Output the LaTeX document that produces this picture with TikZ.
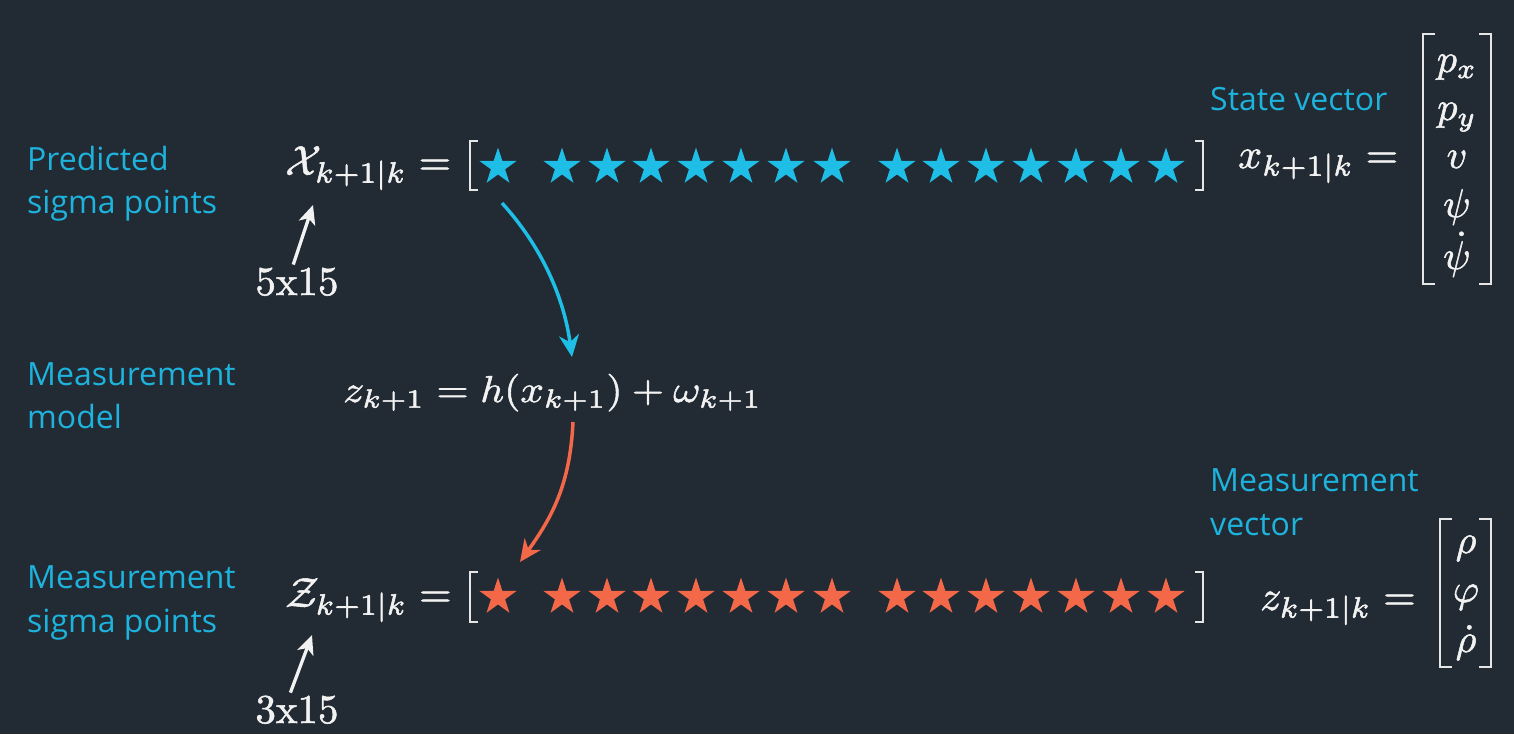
\documentclass[tikz,border=0pt]{standalone}
\usepackage{amsmath}
\usepackage{graphicx}
\usepackage{fontspec}
\newfontfamily\labelfont{Open Sans}
\usetikzlibrary{arrows.meta,shapes.geometric}
\definecolor{bg}{HTML}{222A33}
\definecolor{lblue}{HTML}{1DB3DD}
\definecolor{sblue}{HTML}{1EBEE6}
\definecolor{sorange}{HTML}{F4684A}
\definecolor{ink}{HTML}{F2F2F2}
\definecolor{brk}{HTML}{E6E6E6}
\newcommand{\heavyon}{\special{pdf:literal direct 2 Tr 0.13 w}}
\newcommand{\heavyoff}{\special{pdf:literal direct 0 Tr}}
\newcommand{\SM}[2][4.2]{\scalebox{#1}{\heavyon$#2$\heavyoff}}
\newcommand{\SMX}[3]{\scalebox{#1}[#2]{\heavyon$#3$\heavyoff}}
\newcommand{\ST}[1]{\scalebox{4.1}{\heavyon\fontencoding{OT1}\fontfamily{cmr}\fontsize{10}{12}\selectfont #1\heavyoff}}
\tikzset{
  lbl/.style={font=\labelfont\fontsize{32}{38}\selectfont, text=lblue, anchor=base west, inner sep=0pt},
  mth/.style={text=ink, anchor=base west, inner sep=0pt},
  ent/.style={text=ink, anchor=base, inner sep=0pt},
  dimlbl/.style={text=ink, anchor=base, inner sep=0pt},
  starbase/.style={star, star points=5, star point ratio=2.618, minimum size=39pt, inner sep=0pt, draw=none},
  bluestar/.style={starbase, fill=sblue},
  redstar/.style={starbase, fill=sorange},
  brack/.style={draw=brk, line width=2.4pt, line join=miter},
  barrow/.style={draw=sblue, line width=3.5pt, -{Stealth[length=22pt,width=20pt,inset=7pt]}},
  oarrow/.style={draw=sorange, line width=3.5pt, -{Stealth[length=22pt,width=20pt,inset=7pt]}},
  warrow/.style={draw=ink, line width=3.3pt, -{Stealth[length=19pt,width=17pt,inset=5pt]}},
}
\begin{document}
\begin{tikzpicture}[x=1pt,y=-1pt]
\useasboundingbox (0,0) rectangle (1514,734);
\fill[bg] (0,0) rectangle (1514,734);

% left labels
\node[lbl] (pred1) at (27,170) {Predicted};
\node[lbl] (pred2) at (27,213) {sigma points};
\node[lbl] (mm1) at (27,385) {Measurement};
\node[lbl] (mm2) at (27,428) {model};
\node[lbl] (ms1) at (27,588) {Measurement};
\node[lbl] (ms2) at (27,632) {sigma points};
% right labels
\node[lbl] (sv) at (1210,110) {State vector};
\node[lbl] (mv1) at (1210,491) {Measurement};
\node[lbl] (mv2) at (1210,535) {vector};

% main equations
\node[mth] (X) at (285,175) {\SM{\mathcal{X}_{k+1|k} =}};
\node[mth] (Z) at (285,607) {\SM{\mathcal{Z}_{k+1|k} =}};
\node[mth] (hz) at (343,402) {\SMX{4.15}{3.75}{z_{k+1} = h(x_{k+1}) + \omega_{k+1}}};
\node[mth] (xs) at (1238,168) {\SM{x_{k+1|k} =}};
\node[mth] (zs) at (1260,610) {\SM{z_{k+1|k} =}};

% star rows
\foreach \i/\x in {1/498,2/562,3/607,4/651,5/696,6/741,7/786,8/832,9/897,10/941,11/986,12/1031,13/1076,14/1121,15/1166}{
  \node[bluestar] (t\i) at (\x,167) {};
  \node[redstar] (b\i) at (\x,597) {};
}
% brackets of star rows
\draw[brack] (478,141) -- (470,141) -- (470,190) -- (478,190);
\draw[brack] (1195,141) -- (1203,141) -- (1203,190) -- (1195,190);
\draw[brack] (478,572) -- (470,572) -- (470,622) -- (478,622);
\draw[brack] (1195,572) -- (1203,572) -- (1203,622) -- (1195,622);

% state vector matrix
\node[ent] (px) at (1457,72) {\SM[4.0]{p_x}};
\node[ent] (py) at (1457,120) {\SM[4.0]{p_y}};
\node[ent] (v) at (1457,168) {\SM[4.0]{v}};
\node[ent] (psi) at (1457,217) {\SM[4.0]{\psi}};
\node[ent] (psid) at (1457,269) {\SM[4.0]{\dot{\psi}}};
\draw[brack] (1435,34) -- (1423,34) -- (1423,284) -- (1435,284);
\draw[brack] (1479,34) -- (1491,34) -- (1491,284) -- (1479,284);

% measurement vector matrix
\node[ent] (rho) at (1466,553) {\SM[4.0]{\rho}};
\node[ent] (phi) at (1466,602) {\SM[4.0]{\varphi}};
\node[ent] (rhod) at (1466,652) {\SM[4.0]{\dot{\rho}}};
\draw[brack] (1452,519) -- (1440,519) -- (1440,667) -- (1452,667);
\draw[brack] (1479,519) -- (1491,519) -- (1491,667) -- (1479,667);

% dimension labels
\node[dimlbl] (d5) at (297,295) {\ST{5x15}};
\node[dimlbl] (d3) at (297,723) {\ST{3x15}};
\coordinate (Xtip) at (313,205);
\coordinate (Ztip) at (312,635);
\draw[warrow, shorten <=4pt] ([xshift=-5pt]d5.north) -- (Xtip);
\draw[warrow, shorten <=4pt] ([xshift=-8pt]d3.north) -- (Ztip);

% curved arrows
\coordinate (bs) at (502,203);
\coordinate (be) at (572,357);
\draw[barrow] (bs) .. controls (542,247) and (564,298) .. (be);
\coordinate (os) at (573,422);
\coordinate (oe) at (520,562);
\draw[oarrow] (os) .. controls (570,485) and (552,517) .. (oe);
\end{tikzpicture}
\end{document}
